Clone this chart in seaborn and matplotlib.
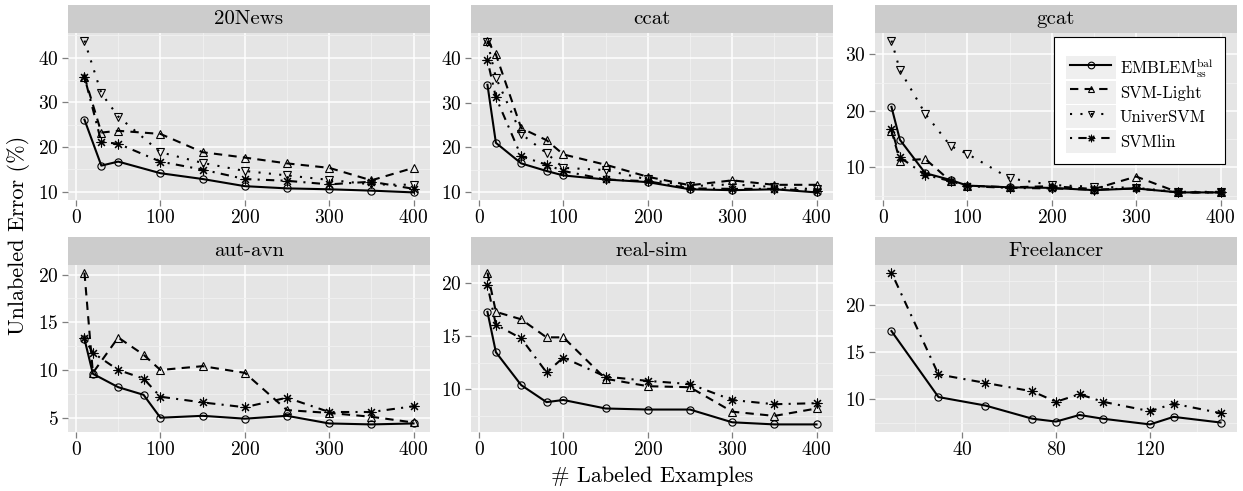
import numpy as np
import pandas as pd
import matplotlib
matplotlib.use('Agg')
import matplotlib.pyplot as plt
import seaborn as sns
from matplotlib.ticker import MultipleLocator, AutoMinorLocator
from matplotlib.patches import Rectangle
from matplotlib.path import Path
from matplotlib.lines import Line2D
from matplotlib.legend_handler import HandlerLine2D

EMBLEM = r'EMBLEM$_{\mathrm{ss}}^{\mathrm{bal}}$'
methods = [EMBLEM, 'SVM-Light', 'UniverSVM', 'SVMlin']
datasets = ['20News', 'ccat', 'gcat', 'aut-avn', 'real-sim', 'Freelancer']

# labeled examples
x_news = [10, 30, 50, 100, 150, 200, 250, 300, 350, 400]
x_rcv = [10, 20, 50, 80, 100, 150, 200, 250, 300, 350, 400]
x_free = [10, 30, 50, 70, 80, 90, 100, 120, 130, 150]

# 20News
news_emblem = [26.1, 15.8, 16.7, 14.1, 12.8, 11.2, 10.7, 10.5, 10.2, 9.8]
news_light = [35.7, 23.2, 23.6, 22.9, 18.8, 17.6, 16.3, 15.3, 12.5, 15.3]
news_univer = [43.8, 32.0, 26.8, 18.8, 16.4, 14.6, 13.6, 12.6, 11.6, 11.5]
news_svmlin = [35.7, 21.1, 20.7, 16.7, 14.9, 12.8, 12.4, 11.6, 12.2, 10.6]

# ccat
ccat_emblem = [34.0, 21.0, 16.4, 14.7, 13.7, 12.8, 12.2, 10.6, 10.4, 10.6, 9.9]
ccat_light = [43.9, 40.8, 24.3, 21.6, 18.4, 16.1, 13.4, 11.5, 12.6, 11.6, 11.6]
ccat_univer = [43.6, 35.6, 23.0, 18.7, 15.4, 14.9, 12.8, 11.3, 11.7, 11.1, 10.6]
ccat_svmlin = [39.5, 31.2, 18.0, 16.1, 14.7, 12.8, 12.4, 10.8, 10.7, 10.7, 10.2]

# gcat
gcat_emblem = [20.7, 14.9, 9.0, 7.8, 6.8, 6.5, 6.4, 6.0, 6.3, 5.6, 5.6]
gcat_light = [16.5, 11.2, 11.5, 7.6, 6.8, 6.5, 6.7, 6.2, 8.4, 5.6, 5.6]
gcat_univer = [32.4, 27.2, 19.5, 13.8, 12.4, 8.1, 6.9, 6.6, 6.4, 5.7, 5.7]
gcat_svmlin = [16.8, 11.8, 8.7, 7.6, 6.7, 6.4, 6.3, 6.1, 6.3, 5.6, 5.6]

# aut-avn (no UniverSVM)
aut_emblem = [13.25, 9.6, 8.2, 7.4, 5.0, 5.2, 4.9, 5.2, 4.4, 4.3, 4.4]
aut_light = [20.2, 9.7, 13.4, 11.6, 10.0, 10.4, 9.7, 5.8, 5.5, 5.1, 4.5]
aut_svmlin = [13.3, 11.8, 10.0, 9.1, 7.2, 6.6, 6.1, 7.1, 5.6, 5.6, 6.2]

# real-sim (no UniverSVM)
real_emblem = [17.3, 13.5, 10.4, 8.8, 9.0, 8.2, 8.1, 8.1, 6.9, 6.7, 6.7]
real_light = [21.0, 17.3, 16.6, 14.9, 14.9, 11.0, 10.3, 10.2, 7.9, 7.5, 8.2]
real_svmlin = [19.8, 16.1, 14.8, 11.6, 13.0, 11.2, 10.8, 10.5, 9.0, 8.6, 8.7]

# Freelancer (EMBLEM and SVMlin only)
free_emblem = [17.2, 10.2, 9.3, 7.9, 7.6, 8.3, 7.9, 7.3, 8.1, 7.5]
free_svmlin = [23.4, 12.6, 11.7, 10.8, 9.7, 10.5, 9.7, 8.7, 9.5, 8.5]

series = {
    '20News': (x_news, {EMBLEM: news_emblem, 'SVM-Light': news_light,
                        'UniverSVM': news_univer, 'SVMlin': news_svmlin}),
    'ccat': (x_rcv, {EMBLEM: ccat_emblem, 'SVM-Light': ccat_light,
                     'UniverSVM': ccat_univer, 'SVMlin': ccat_svmlin}),
    'gcat': (x_rcv, {EMBLEM: gcat_emblem, 'SVM-Light': gcat_light,
                     'UniverSVM': gcat_univer, 'SVMlin': gcat_svmlin}),
    'aut-avn': (x_rcv, {EMBLEM: aut_emblem, 'SVM-Light': aut_light,
                        'SVMlin': aut_svmlin}),
    'real-sim': (x_rcv, {EMBLEM: real_emblem, 'SVM-Light': real_light,
                         'SVMlin': real_svmlin}),
    'Freelancer': (x_free, {EMBLEM: free_emblem, 'SVMlin': free_svmlin}),
}

rows = []
for name, (xs, by_method) in series.items():
    for method, ys in by_method.items():
        for x, y in zip(xs, ys):
            rows.append({'dataset': name, 'method': method, 'labeled': x, 'error': y})
df = pd.DataFrame(rows)

x_steps = {'20News': 100, 'ccat': 100, 'gcat': 100, 'aut-avn': 100, 'real-sim': 100, 'Freelancer': 40}
y_steps = {'20News': 10, 'ccat': 10, 'gcat': 10, 'aut-avn': 5, 'real-sim': 5, 'Freelancer': 5}

# asterisk as a path so it can sit with the open markers
asterisk = Path.unit_regular_asterisk(8)
dash_map = {EMBLEM: '', 'SVM-Light': (4, 3), 'UniverSVM': (1, 4), 'SVMlin': (1, 3, 4, 3)}
marker_map = {EMBLEM: 'o', 'SVM-Light': '^', 'UniverSVM': 'v', 'SVMlin': asterisk}


class KeyHandler(HandlerLine2D):
    # ggplot-like legend key: grey box, line a bit shorter than the box
    def create_artists(self, legend, orig_handle, xdescent, ydescent, width, height,
                       fontsize, trans):
        bg = Rectangle((-xdescent, -ydescent), width, height, facecolor='#EFEFEF',
                       edgecolor='none', transform=trans)
        inset = 3.0
        arts = super().create_artists(legend, orig_handle, xdescent - inset, ydescent,
                                      width - 2 * inset, height, fontsize, trans)
        return [bg] + list(arts)


def fix_marker_sizes(ax):
    for ln in ax.get_lines():
        m = ln.get_marker()
        if m == 'o':
            ln.set_markersize(5.2)
        elif m in ('^', 'v'):
            ln.set_markersize(6.3)
        elif m not in ('None', None, ''):
            ln.set_markersize(6.5)


plt.rcParams['font.family'] = 'cmr10'
plt.rcParams['mathtext.fontset'] = 'cm'
plt.rcParams['axes.formatter.use_mathtext'] = True
plt.rcParams['axes.unicode_minus'] = False

W, H = 1243, 491
fig = plt.figure(figsize=(W / 100, H / 100), dpi=100)

lefts = [68, 471, 875]
tops = [33, 265]
pw, ph, strip_h = 362, 167, 28

for i, name in enumerate(datasets):
    r, c = divmod(i, 3)
    ax = fig.add_axes([lefts[c] / W, 1 - (tops[r] + ph) / H, pw / W, ph / H])
    sub = df[df['dataset'] == name]
    sns.lineplot(data=sub, x='labeled', y='error', hue='method', style='method',
                 hue_order=methods, style_order=methods,
                 palette=['black'] * 4, dashes=dash_map, markers=marker_map,
                 errorbar=None, ax=ax, legend=(name == 'gcat'),
                 lw=1.5, markersize=6, mfc='none', mec='black', mew=0.8)
    fix_marker_sizes(ax)
    ax.margins(0.05)
    ax.set_facecolor('#E5E5E5')
    for s in ax.spines.values():
        s.set_visible(False)
    ax.xaxis.set_major_locator(MultipleLocator(x_steps[name]))
    ax.yaxis.set_major_locator(MultipleLocator(y_steps[name]))
    ax.xaxis.set_minor_locator(AutoMinorLocator(2))
    ax.yaxis.set_minor_locator(AutoMinorLocator(2))
    ax.grid(which='major', color='white', lw=1.1)
    ax.grid(which='minor', color='#F2F2F2', lw=0.6)
    ax.set_axisbelow(True)
    ax.tick_params(which='major', length=4.5, width=0.9, color='#7F7F7F', labelsize=14, pad=2)
    ax.tick_params(which='minor', length=0)
    ax.set_xlabel('')
    ax.set_ylabel('')
    h = strip_h / ph
    ax.add_patch(Rectangle((0, 1), 1, h, transform=ax.transAxes, clip_on=False,
                           facecolor='#CCCCCC', edgecolor='none'))
    ax.text(0.5, 1 + h / 2, name, transform=ax.transAxes, ha='center', va='center',
            fontsize=15)
    if name == 'gcat':
        old = ax.get_legend()
        handles = old.legend_handles
        labels = [t.get_text() for t in old.get_texts()]
        old.remove()
        for hd in handles:
            hd.set_markersize(4.8)
        leg = ax.legend(handles, labels, loc='upper right',
                        bbox_to_anchor=((1225 - 875) / pw, 1 - 4 / ph),
                        borderaxespad=0, frameon=True, fancybox=False,
                        edgecolor='black', framealpha=1, fontsize=12,
                        title=' ', title_fontsize=5,
                        handlelength=3.0, handleheight=1.75, labelspacing=0.08,
                        handletextpad=0.25, borderpad=0.7,
                        handler_map={Line2D: KeyHandler()})
        leg.get_frame().set_linewidth(0.8)

fig.text(19 / W, 1 - 235 / H, 'Unlabeled Error (%)', rotation=90, ha='center',
         va='center', fontsize=16)
fig.text(652 / W, 1 - 476 / H, '# Labeled Examples', ha='center', va='center',
         fontsize=16)

fig.savefig('out.png', dpi=100)
